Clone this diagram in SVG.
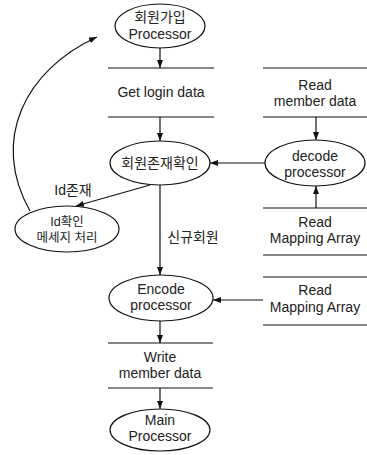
<svg xmlns="http://www.w3.org/2000/svg" width="367" height="455" viewBox="0 0 367 455">
<defs>
<marker id="ah" markerWidth="8" markerHeight="6" refX="8" refY="3" orient="auto" markerUnits="userSpaceOnUse">
<path d="M0,0 L8,3 L0,6 z" fill="#111"/>
</marker>
<style>
.n{fill:#fff;stroke:#111;stroke-width:1.2}
.ln{stroke:#111;stroke-width:1.2;fill:none}
.c{stroke:#111;stroke-width:1.2;fill:none;marker-end:url(#ah)}
.t{font-family:"Liberation Sans","Noto Sans CJK KR",sans-serif;font-size:14px;fill:#222;text-anchor:middle}
.s{font-size:12.5px}
</style>
</defs>
<rect width="367" height="455" fill="#fff"/>
<g id="connectors">
<line class="c" x1="160" y1="48" x2="160" y2="68"/>
<line class="c" x1="160" y1="117" x2="160" y2="141"/>
<line class="c" x1="316" y1="117" x2="316" y2="140"/>
<line class="c" x1="265" y1="163" x2="210" y2="163"/>
<line class="c" x1="316" y1="208" x2="316" y2="186"/>
<line class="c" x1="150" y1="185" x2="76" y2="206"/>
<line class="c" x1="160" y1="185" x2="160" y2="275"/>
<line class="c" x1="263" y1="300" x2="213" y2="300"/>
<line class="c" x1="160" y1="321" x2="160" y2="343"/>
<line class="c" x1="160" y1="388" x2="160" y2="409"/>
<path class="c" d="M30,211 C-10,140 25,70 97,37"/>
<text class="t" x="73" y="195">Id존재</text>
<text class="t" x="193" y="242">신규회원</text>
</g>
<g id="join">
<ellipse class="n" cx="160" cy="26" rx="45" ry="22"/>
<text class="t" x="160" y="22">회원가입</text>
<text class="t" x="160" y="39">Processor</text>
</g>
<g id="login">
<line class="ln" x1="108" y1="68" x2="214" y2="68"/>
<line class="ln" x1="108" y1="117" x2="214" y2="117"/>
<text class="t" x="161" y="97">Get login data</text>
</g>
<g id="check">
<ellipse class="n" cx="160" cy="163" rx="50" ry="22"/>
<text class="t" x="160" y="168">회원존재확인</text>
</g>
<g id="readmember">
<line class="ln" x1="263" y1="68" x2="367" y2="68"/>
<line class="ln" x1="263" y1="117" x2="367" y2="117"/>
<text class="t" x="315" y="90">Read</text>
<text class="t" x="315" y="106">member data</text>
</g>
<g id="decode">
<ellipse class="n" cx="315" cy="163" rx="50" ry="23"/>
<text class="t" x="315" y="161">decode</text>
<text class="t" x="315" y="177">processor</text>
</g>
<g id="mapping1">
<line class="ln" x1="263" y1="208" x2="367" y2="208"/>
<line class="ln" x1="263" y1="255" x2="367" y2="255"/>
<text class="t" x="315" y="227">Read</text>
<text class="t" x="315" y="243">Mapping Array</text>
</g>
<g id="idmsg">
<ellipse class="n" cx="67" cy="229" rx="52" ry="23"/>
<text class="t s" x="67" y="226">Id확인</text>
<text class="t s" x="67" y="242">메세지 처리</text>
</g>
<g id="mapping2">
<line class="ln" x1="263" y1="277" x2="367" y2="277"/>
<line class="ln" x1="263" y1="325" x2="367" y2="325"/>
<text class="t" x="315" y="295">Read</text>
<text class="t" x="315" y="312">Mapping Array</text>
</g>
<g id="encode">
<ellipse class="n" cx="161" cy="298" rx="52" ry="23"/>
<text class="t" x="161" y="294">Encode</text>
<text class="t" x="161" y="310">processor</text>
</g>
<g id="write">
<line class="ln" x1="108" y1="343" x2="213" y2="343"/>
<line class="ln" x1="108" y1="388" x2="213" y2="388"/>
<text class="t" x="160" y="362">Write</text>
<text class="t" x="160" y="378">member data</text>
</g>
<g id="main">
<ellipse class="n" cx="160" cy="430" rx="50" ry="21"/>
<text class="t" x="160" y="425">Main</text>
<text class="t" x="160" y="441">Processor</text>
</g>
</svg>
